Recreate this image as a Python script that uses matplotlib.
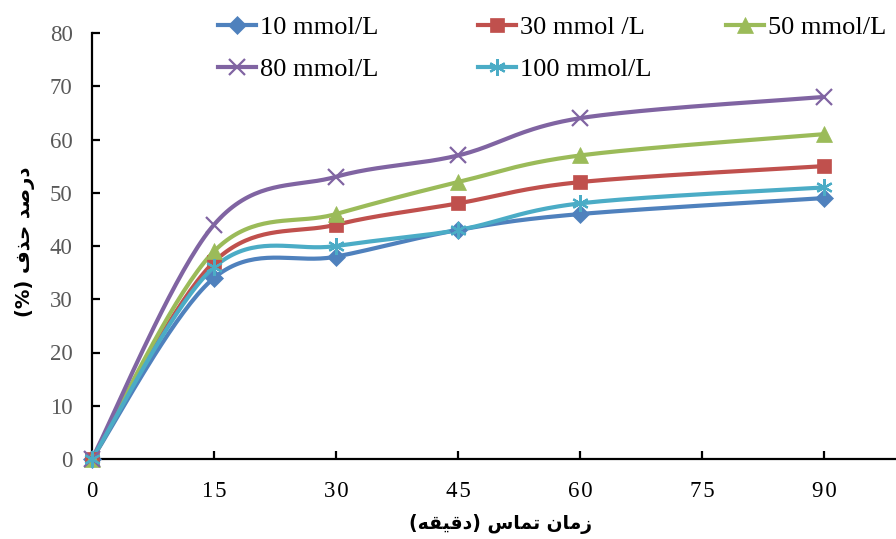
import numpy as np
import matplotlib
matplotlib.use("Agg")
import matplotlib.pyplot as plt
from matplotlib.lines import Line2D

# ---- data ----
times = [0, 15, 30, 45, 60, 90]
series_labels = ["10 mmol/L", "30 mmol /L", "50 mmol/L", "80 mmol/L", "100 mmol/L"]
s10 = [0, 34, 38, 43, 46, 49]
s30 = [0, 37, 44, 48, 52, 55]
s50 = [0, 39, 46, 52, 57, 61]
s80 = [0, 44, 53, 57, 64, 68]
s100 = [0, 36, 40, 43, 48, 51]
xticks = [0, 15, 30, 45, 60, 75, 90]
yticks = [0, 10, 20, 30, 40, 50, 60, 70, 80]

colors = ["#4F81BD", "#C0504D", "#9BBB59", "#8064A2", "#4BACC6"]
markers = ["D", "s", "^", "x", (6, 2, 0)]
msizes = [9, 9.5, 11, 11, 12]
mews = [0.5, 0.5, 0.5, 1.6, 1.6]

# Persian labels (pre-shaped presentation forms, visual order)
xlabel = "(\uFEEA\uFED8\uFEF4\uFED7\uFEA9) \uFEB1\uFE8E\uFEE4\uFE97 \uFEE5\uFE8E\uFEE3\uFEAF"
ylabel = "(%) \uFED1\uFEAC\uFEA3 \uFEAA\uFEBB\uFEAD\uFEA9"

plt.rcParams["font.family"] = ["Liberation Serif", "DejaVu Sans"]

W, H = 896, 539
fig = plt.figure(figsize=(W / 100, H / 100), dpi=100)
ax_left, ax_bottom = 92 / W, (H - 459) / H
ax = fig.add_axes([ax_left, ax_bottom, 1 - ax_left, (459 - 33) / H])
ax.set_xlim(0, 98.85)
ax.set_ylim(0, 80)

# pixel scales for smoothing in screen space
sx = 122 / 15.0
sy = 53.25 / 10.0


def smooth(xs, ys, n=40):
    P = np.column_stack([np.array(xs) * sx, np.array(ys) * sy])
    out = [P[0]]
    m = len(P)
    for i in range(m - 1):
        p0 = P[i - 1] if i > 0 else P[i]
        p1 = P[i]
        p2 = P[i + 1]
        p3 = P[i + 2] if i + 2 < m else P[i + 1]
        c1 = p1 + (p2 - p0) / 6.0
        c2 = p2 - (p3 - p1) / 6.0
        t = np.linspace(0, 1, n)[1:, None]
        seg = ((1 - t) ** 3) * p1 + 3 * ((1 - t) ** 2) * t * c1 + 3 * (1 - t) * t ** 2 * c2 + t ** 3 * p2
        out.extend(seg)
    out = np.array(out)
    return out[:, 0] / sx, out[:, 1] / sy


all_series = [s10, s30, s50, s80, s100]
handles = []
for ys, c, mk, ms, mw, lab in zip(all_series, colors, markers, msizes, mews, series_labels):
    xs_s, ys_s = smooth(times, ys)
    ax.plot(xs_s, ys_s, color=c, lw=3, solid_capstyle="round", zorder=2)
    ax.plot(times, ys, ls="none", marker=mk, ms=ms, color=c, mec=c, mew=mw,
            zorder=3, clip_on=False)
    handles.append(Line2D([0], [0], color=c, lw=3, marker=mk, ms=ms, mec=c, mew=mw))

ax.spines["top"].set_visible(False)
ax.spines["right"].set_visible(False)
ax.spines["left"].set_linewidth(1.6)
ax.spines["bottom"].set_linewidth(1.6)
ax.set_xticks(xticks)
ax.set_yticks(yticks)
ax.tick_params(axis="both", direction="in", length=6, width=1.6)
ax.tick_params(axis="x", labelsize=16.5, pad=16, colors="black")
ax.tick_params(axis="y", labelsize=16.5, pad=14, labelcolor="#595959")
ax.set_xticklabels(["\u200A".join(str(v)) for v in xticks])

fig.text(500 / W, 1 - 524 / H, xlabel, family="DejaVu Sans", fontweight="bold",
         fontsize=13.5, ha="center", va="center")
fig.text(25 / W, 1 - 242 / H, ylabel, family="DejaVu Sans", fontweight="bold",
         fontsize=14, ha="center", va="center", rotation=90)

columns = [[0, 3], [1, 4], [2]]
col_x = [218, 478, 726]
for idxs, cx in zip(columns, col_x):
    leg = fig.legend([handles[i] for i in idxs], [series_labels[i] for i in idxs],
                     loc="upper left", bbox_to_anchor=(cx / W, 1 - 16 / H),
                     frameon=False, fontsize=19, handlelength=1.45, handletextpad=0.15,
                     labelspacing=0.68, borderaxespad=0, borderpad=0)

fig.savefig("out.png", dpi=100)
